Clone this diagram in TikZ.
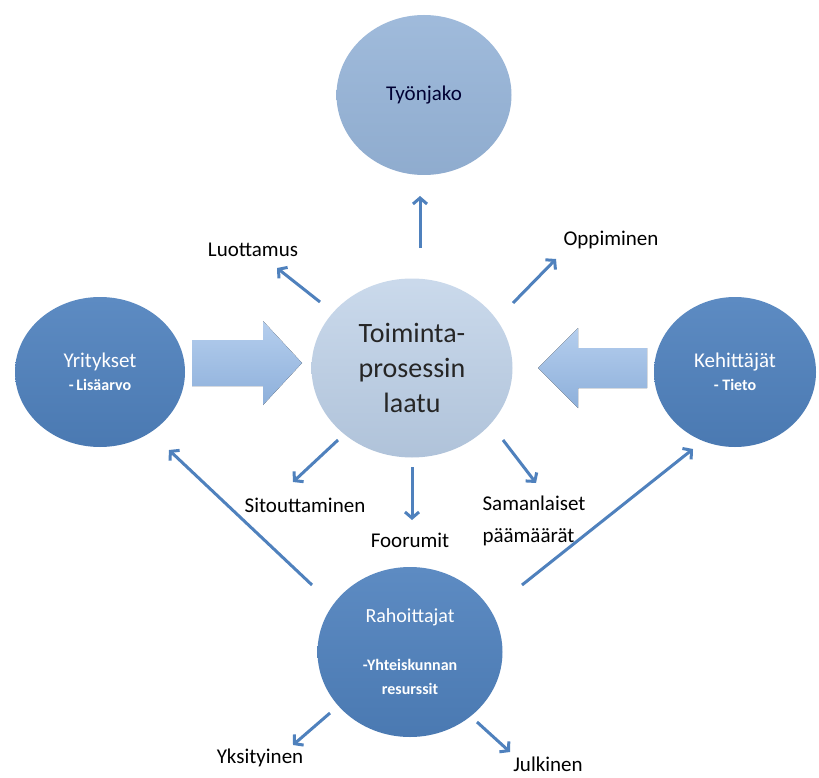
\documentclass[tikz,border=0pt]{standalone}
\usepackage{fontspec}
\setmainfont{Carlito}
\usetikzlibrary{shapes.geometric, arrows.meta}

\definecolor{bubdark}{HTML}{4F81BD}
\definecolor{bubmid}{HTML}{95B3D7}
\definecolor{bublight}{HTML}{B9CDE5}
\definecolor{flowblue}{HTML}{4F81BD}
\definecolor{fatblue}{HTML}{95B9E6}

\tikzset{
  bubble/.style={ellipse, inner sep=0pt, align=center},
  actor/.style={bubble, top color=bubdark!92!white, bottom color=bubdark!94!black,
    text=white, font=\fontsize{21}{25}\selectfont},
  goal/.style={bubble, top color=bubmid!90!white, bottom color=bubmid!96!black,
    text=black!80!blue, font=\fontsize{21}{25}\selectfont},
  core/.style={bubble, top color=bublight!75!white, bottom color=bublight!95!black,
    text=black!85, font=\fontsize{28}{35}\selectfont},
  tag/.style={font=\fontsize{21}{25}\selectfont, inner sep=1pt},
  flow/.style={->, flowblue, line width=3pt},
  fatarrow/.style={top color=fatblue!70!white, bottom color=fatblue!95!black}
}

\begin{document}
\begin{tikzpicture}[x=1pt, y=-1pt, >={Straight Barb[length=6pt,width=14pt]}]

\useasboundingbox (0,0) rectangle (819,778);
\fill[white] (0,0) rectangle (819,778);

% ---------------------------------------------------------------
% Bubbles
% ---------------------------------------------------------------
\node[goal, minimum width=175, minimum height=160] (tj) at (424,95) {Työnjako};
\node[core, minimum width=201, minimum height=179] (tp) at (412,368)
  {Toiminta-\\prosessin\\laatu};
\node[actor, minimum width=170, minimum height=150] (yr) at (100,372)
  {Yritykset\\[-2pt]{\fontsize{16}{20}\selectfont\bfseries -\,Lisäarvo}};
\node[actor, minimum width=162, minimum height=150] (ke) at (735,372)
  {Kehittäjät\\[-2pt]{\fontsize{16}{20}\selectfont\bfseries - Tieto}};
\node[actor, minimum width=185, minimum height=170, font=\fontsize{20}{24}\selectfont]
  (ra) at (410,652) {Rahoittajat\\[24pt]{\fontsize{16}{20}\selectfont\bfseries -Yhteiskunnan}\\
  {\fontsize{16}{20}\selectfont\bfseries resurssit}};

% ---------------------------------------------------------------
% Fat arrows into the core
% ---------------------------------------------------------------
\fill[fatarrow] (192,340) -- (263,340) -- (263,321) -- (302,363)
  -- (263,405) -- (263,386) -- (192,386) -- cycle;
\fill[fatarrow] (647,348) -- (578,348) -- (578,328) -- (538,368)
  -- (578,408) -- (578,388) -- (647,388) -- cycle;

% ---------------------------------------------------------------
% Labels
% ---------------------------------------------------------------
\node[tag] (luo) at (253,250) {Luottamus};
\node[tag] (opp) at (611,240) {Oppiminen};
\node[tag] (sit) at (305,505) {Sitouttaminen};
\node[tag] (foo) at (410,540) {Foorumit};
\node[tag, align=left, font=\fontsize{21}{32}\selectfont] (sam) at (534,521)
  {Samanlaiset\\päämäärät};
\node[tag] (yks) at (260,758) {Yksityinen};
\node[tag] (jul) at (548,764) {Julkinen};

% ---------------------------------------------------------------
% Arrow end points
% ---------------------------------------------------------------
\coordinate (tj-a) at (420,248);  \coordinate (tj-b) at (420,196);
\coordinate (luo-a) at (320,302); \coordinate (luo-b) at (277,268);
\coordinate (opp-a) at (513,303); \coordinate (opp-b) at (556,259);
\coordinate (sit-a) at (338,440); \coordinate (sit-b) at (293,482);
\coordinate (foo-a) at (412,467); \coordinate (foo-b) at (412,520);
\coordinate (sam-a) at (503,440); \coordinate (sam-b) at (536,483);
\coordinate (yr-a) at (312,585);  \coordinate (yr-b) at (169,450);
\coordinate (ke-a) at (522,585);  \coordinate (ke-b) at (693,449);
\coordinate (yks-a) at (330,713); \coordinate (yks-b) at (293,745);
\coordinate (jul-a) at (477,722); \coordinate (jul-b) at (510,752);

\foreach \aa in {tj, luo, opp, sit, foo, sam, yr, ke, yks, jul} {
  \draw[flow] (\aa-a) -- (\aa-b);
}

\end{tikzpicture}
\end{document}
